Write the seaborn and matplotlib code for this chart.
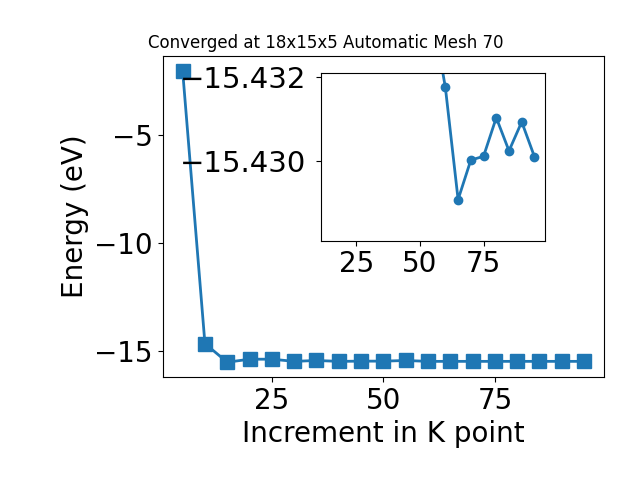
import numpy as np
import pandas as pd
import seaborn as sns
import matplotlib
matplotlib.use("Agg")
import matplotlib.pyplot as plt

# k point increment vs total energy
k_points = [5, 10, 15, 20, 25, 30, 35, 40, 45, 50, 55, 60, 65, 70, 75, 80, 85, 90, 95]
energy = [-2.05, -14.66, -15.52, -15.38, -15.38, -15.48, -15.44, -15.48, -15.47, -15.47,
          -15.44, -15.48, -15.48, -15.48, -15.48, -15.48, -15.48, -15.48, -15.48]

# zoomed values for the inset
inset_k = [55, 60, 65, 70, 75, 80, 85, 90, 95]
inset_energy = [-15.4335, -15.43175, -15.42908, -15.43002, -15.43011,
                -15.43103, -15.43024, -15.43093, -15.4301]

title = "Converged at 18x15x5 Automatic Mesh 70"
blue = "#1f77b4"

fig = plt.figure(figsize=(6.4, 4.8), dpi=100)
ax = fig.add_axes([0.254, 0.215, 0.69, 0.668])

df = pd.DataFrame({"k": k_points, "E": energy})
sns.lineplot(data=df, x="k", y="E", ax=ax, color=blue, marker="s", markersize=10,
             markeredgecolor=blue, markeredgewidth=1, linewidth=2)
ax.set_xlabel("Increment in K point", fontsize=20)
ax.set_ylabel("Energy (eV)", fontsize=20)
ax.tick_params(labelsize=20)
ax.set_xticks([25, 50, 75])
ax.set_title(title, fontsize=12, x=0.37)

# inset
ax2 = fig.add_axes([0.501, 0.4985, 0.35, 0.35])
di = pd.DataFrame({"k": inset_k, "E": inset_energy})
sns.lineplot(data=di, x="k", y="E", ax=ax2, color=blue, marker="o", markersize=6,
             markeredgecolor=blue, markeredgewidth=1, linewidth=2)
ax2.set_xlim(11, 99)
ax2.set_ylim(-15.4281, -15.4321)
ax2.set_xticks([25, 50, 75])
ax2.set_yticks([-15.432, -15.430])
ax2.set_xlabel("")
ax2.set_ylabel("")
ax2.tick_params(axis="x", labelsize=20)
ax2.tick_params(axis="y", labelsize=21, pad=7)

plt.savefig("out.png", dpi=100)
